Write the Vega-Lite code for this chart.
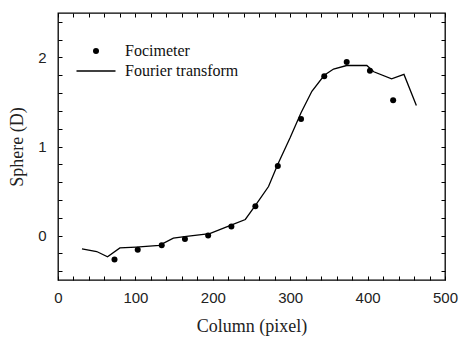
{
  "$schema": "https://vega.github.io/schema/vega-lite/v6.json",
  "width": 387,
  "height": 267,
  "autosize": "none",
  "padding": {"left": 58, "top": 13, "right": 20, "bottom": 61},
  "background": "white",
  "datasets": {
    "fourier": [
      {"column": 31, "sphere": -0.15}, {"column": 50, "sphere": -0.18}, {"column": 64, "sphere": -0.24},
      {"column": 80, "sphere": -0.14}, {"column": 101, "sphere": -0.13}, {"column": 131, "sphere": -0.11},
      {"column": 149, "sphere": -0.03}, {"column": 166, "sphere": -0.01}, {"column": 196, "sphere": 0.02},
      {"column": 222, "sphere": 0.11}, {"column": 242, "sphere": 0.18}, {"column": 256, "sphere": 0.35},
      {"column": 272, "sphere": 0.55}, {"column": 284, "sphere": 0.8}, {"column": 300, "sphere": 1.1},
      {"column": 314, "sphere": 1.38}, {"column": 328, "sphere": 1.62}, {"column": 344, "sphere": 1.8},
      {"column": 356, "sphere": 1.87}, {"column": 373, "sphere": 1.91}, {"column": 399, "sphere": 1.91},
      {"column": 408, "sphere": 1.84}, {"column": 431, "sphere": 1.76}, {"column": 447, "sphere": 1.81},
      {"column": 463, "sphere": 1.46}
    ],
    "focimeter": [
      {"column": 73, "sphere": -0.27}, {"column": 103, "sphere": -0.16}, {"column": 134, "sphere": -0.11},
      {"column": 164, "sphere": -0.04}, {"column": 194, "sphere": 0.0}, {"column": 224, "sphere": 0.1},
      {"column": 255, "sphere": 0.33}, {"column": 284, "sphere": 0.78}, {"column": 314, "sphere": 1.31},
      {"column": 344, "sphere": 1.79}, {"column": 373, "sphere": 1.95}, {"column": 403, "sphere": 1.85},
      {"column": 433, "sphere": 1.52}
    ]
  },
  "layer": [
    {
      "data": {"name": "fourier"},
      "mark": {"type": "line", "stroke": "black", "strokeWidth": 1.3},
      "encoding": {
        "x": {
          "field": "column", "type": "quantitative",
          "scale": {"domain": [0, 500], "nice": false},
          "axis": {
            "orient": "bottom", "title": "Column (pixel)",
            "values": [0,20,40,60,80,100,120,140,160,180,200,220,240,260,280,300,320,340,360,380,400,420,440,460,480,500],
            "labelExpr": "datum.value % 100 === 0 ? format(datum.value, 'd') : ''",
            "labelOverlap": false, "labelFlush": false,
            "tickSize": -4, "labelPadding": 14, "titlePadding": 12
          }
        },
        "y": {
          "field": "sphere", "type": "quantitative",
          "scale": {"domain": [-0.5, 2.5], "nice": false, "zero": false},
          "axis": {
            "orient": "left", "title": "Sphere (D)",
            "values": [-0.4,-0.2,0,0.2,0.4,0.6,0.8,1,1.2,1.4,1.6,1.8,2,2.2,2.4],
            "labelExpr": "datum.value % 1 === 0 ? format(datum.value, 'd') : ''",
            "labelOverlap": false, "labelFlush": false,
            "tickSize": -4, "labelPadding": 16, "titlePadding": 11
          }
        },
        "color": {
          "datum": "Fourier transform",
          "scale": {"domain": ["Focimeter", "Fourier transform"], "range": ["black", "black"]},
          "legend": {
            "orient": "none", "legendX": 30, "legendY": 30,
            "title": null,
            "symbolSize": 1521,
            "labelFont": "Liberation Serif", "labelFontSize": 16, "labelColor": "#111",
            "labelOffset": 21, "rowPadding": 4,
            "encode": {
              "symbols": {
                "update": {
                  "shape": {"signal": "datum.value === 'Focimeter' ? 'circle' : 'stroke'"},
                  "size": {"signal": "datum.value === 'Focimeter' ? 36 : 1521"},
                  "fill": {"signal": "datum.value === 'Focimeter' ? 'black' : 'transparent'"},
                  "stroke": {"value": "black"},
                  "strokeWidth": {"signal": "datum.value === 'Focimeter' ? 0 : 1.3"},
                  "opacity": {"value": 1}
                }
              }
            }
          }
        }
      }
    },
    {
      "data": {"name": "focimeter"},
      "mark": {"type": "point", "filled": true, "size": 36, "opacity": 1},
      "encoding": {
        "x": {
          "field": "column", "type": "quantitative",
          "axis": {
            "orient": "top", "title": null, "labels": false,
            "values": [0,20,40,60,80,100,120,140,160,180,200,220,240,260,280,300,320,340,360,380,400,420,440,460,480,500],
            "tickSize": -4
          }
        },
        "y": {
          "field": "sphere", "type": "quantitative",
          "axis": {
            "orient": "right", "title": null, "labels": false,
            "values": [-0.4,-0.2,0,0.2,0.4,0.6,0.8,1,1.2,1.4,1.6,1.8,2,2.2,2.4],
            "tickSize": -4
          }
        },
        "color": {"datum": "Focimeter"}
      }
    }
  ],
  "resolve": {"axis": {"x": "independent", "y": "independent"}},
  "config": {
    "view": {"stroke": "black", "strokeWidth": 1.3},
    "axis": {
      "domain": false, "grid": false,
      "tickColor": "black", "tickWidth": 1,
      "labelFont": "Liberation Sans", "labelFontSize": 15, "labelColor": "#222",
      "titleFont": "Liberation Serif", "titleFontSize": 18, "titleFontWeight": "normal", "titleColor": "#222"
    }
  }
}
